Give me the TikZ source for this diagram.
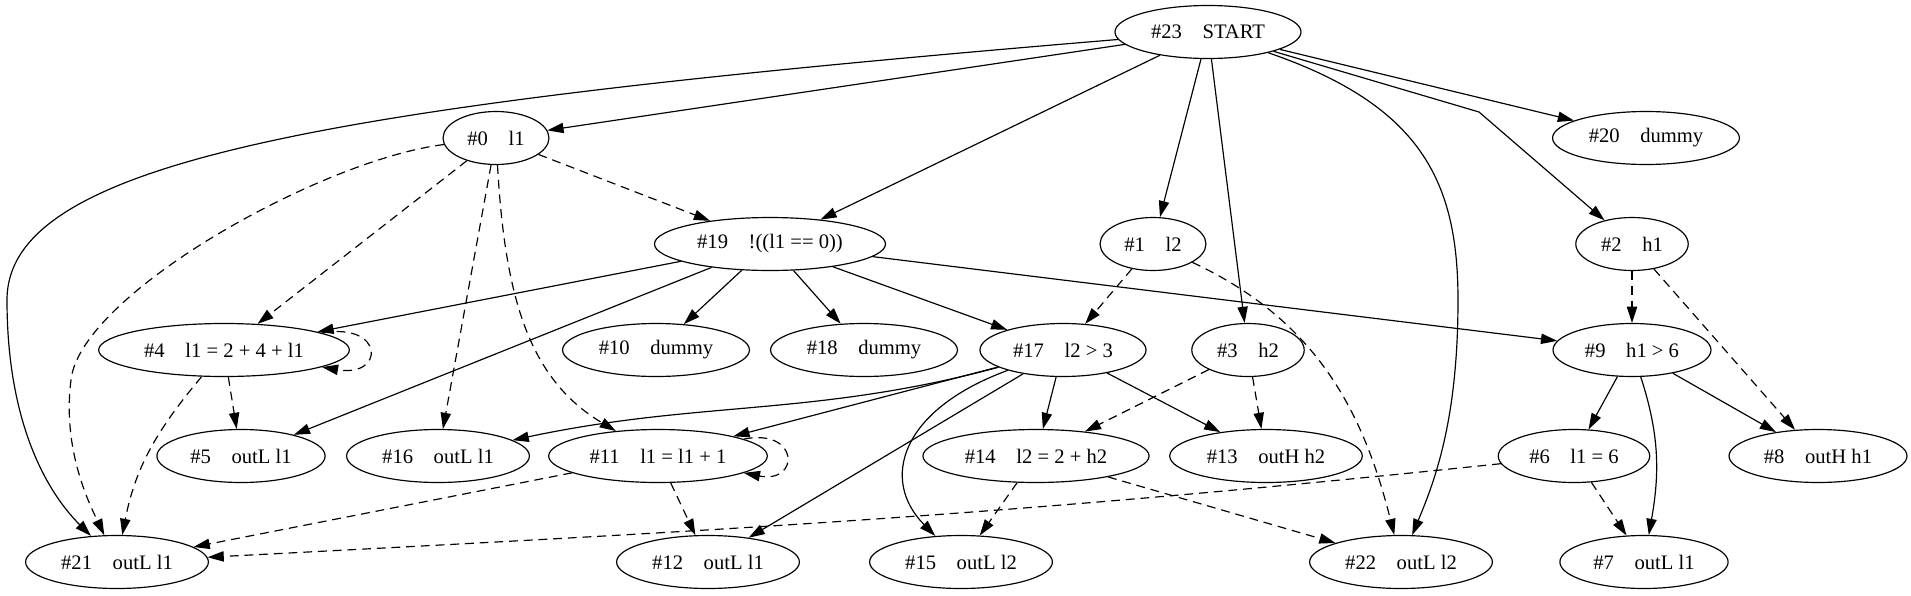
\documentclass[tikz,border=0pt]{standalone}
\usepackage{fontspec}
\setmainfont{Liberation Serif}
\usepackage{tikz}
\usetikzlibrary{arrows.meta,shapes.geometric}

\begin{document}
\begin{tikzpicture}[x=0.02388cm, y=-0.02388cm, >={Triangle[length=11pt,width=7pt]},
        font=\fontsize{14}{16}\selectfont,
        st/.style={draw, ellipse, line width=0.8pt, inner xsep=6pt, inner ysep=1pt, minimum height=36pt},
        ed/.style={->, line width=0.8pt},
        dd/.style={->, line width=0.8pt, dash pattern=on 6pt off 4pt}]
        \useasboundingbox (0,0) rectangle (1911,595);
        \node[st] (n23) at (1208,32) {\#23\quad START};
        \node[st] (n0) at (496,138) {\#0\quad l1};
        \node[st] (n20) at (1646,138) {\#20\quad dummy};
        \node[st] (n19) at (770,244) {\#19\quad !((l1 == 0))};
        \node[st] (n1) at (1153,244) {\#1\quad l2};
        \node[st] (n2) at (1632,244) {\#2\quad h1};
        \node[st] (n4) at (224,350) {\#4\quad l1 = 2 + 4 + l1};
        \node[st] (n10) at (656,350) {\#10\quad dummy};
        \node[st] (n18) at (864,350) {\#18\quad dummy};
        \node[st] (n17) at (1063,350) {\#17\quad l2 > 3};
        \node[st] (n3) at (1248,350) {\#3\quad h2};
        \node[st] (n9) at (1632,350) {\#9\quad h1 > 6};
        \node[st] (n5) at (241,456) {\#5\quad outL l1};
        \node[st] (n16) at (438,456) {\#16\quad outL l1};
        \node[st] (n11) at (658,456) {\#11\quad l1 = l1 + 1};
        \node[st] (n14) at (1036,456) {\#14\quad l2 = 2 + h2};
        \node[st] (n13) at (1266,456) {\#13\quad outH h2};
        \node[st] (n6) at (1574,456) {\#6\quad l1 = 6};
        \node[st] (n8) at (1818,456) {\#8\quad outH h1};
        \node[st] (n21) at (117,562) {\#21\quad outL l1};
        \node[st] (n12) at (708,562) {\#12\quad outL l1};
        \node[st] (n15) at (961,562) {\#15\quad outL l2};
        \node[st] (n22) at (1401,562) {\#22\quad outL l2};
        \node[st] (n7) at (1644,562) {\#7\quad outL l1};
        % START
        \draw[ed] (n23) .. controls (330,105) and (7,160) .. (7,300) .. controls (7,420) and (45,490) .. (n21);
        \draw[ed] (n23) -- (n0);
        \draw[ed] (n23) -- (n19);
        \draw[ed] (n23) -- (n1);
        \draw[ed] (n23) -- (n3);
        \draw[ed] (n23) .. controls (1420,105) and (1458,180) .. (1458,300) .. controls (1458,420) and (1435,480) .. (n22);
        \draw[ed] (n23) -- (n20);
        \draw[ed] (n23) -- (1479,112) -- (n2);
        % #0
        \draw[dd] (n0) .. controls (320,160) and (80,295) .. (71,380) .. controls (62,450) and (90,505) .. (n21);
        \draw[dd] (n0) -- (n4);
        \draw[dd] (n0) -- (n16);
        \draw[dd] (n0) .. controls (505,300) and (530,380) .. (n11);
        \draw[dd] (n0) -- (n19);
        % #19
        \draw[ed] (n19) -- (n4);
        \draw[ed] (n19) -- (n5);
        \draw[ed] (n19) -- (n10);
        \draw[ed] (n19) -- (n18);
        \draw[ed] (n19) -- (n17);
        \draw[ed] (n19) -- (n9);
        % #1, #2
        \draw[dd] (n1) -- (n17);
        \draw[dd] (n1) to[out=-25, in=104] (n22);
        \draw[dd] (n2) -- (n9);
        \draw[dd] (n2) -- (n8);
        % #4
        \draw[dd] (n4) .. controls (385,322) and (385,378) .. (n4);
        \draw[dd] (n4) -- (n5);
        \draw[dd] (n4) to[out=-130, in=79] (n21);
        % #17
        \draw[ed] (n17) to[out=195, in=12] (n16);
        \draw[ed] (n17) -- (n11);
        \draw[ed] (n17) -- (n12);
        \draw[ed] (n17) .. controls (900,410) and (880,480) .. (n15);
        \draw[ed] (n17) -- (n14);
        \draw[ed] (n17) -- (n13);
        % #3
        \draw[dd] (n3) -- (n14);
        \draw[dd] (n3) -- (n13);
        % #9
        \draw[ed] (n9) -- (n6);
        \draw[ed] (n9) to[out=-72, in=80] (n7);
        \draw[ed] (n9) -- (n8);
        % #11
        \draw[dd] (n11) .. controls (800,428) and (800,484) .. (n11);
        \draw[dd] (n11) -- (n21);
        \draw[dd] (n11) -- (n12);
        % #14, #6
        \draw[dd] (n14) -- (n15);
        \draw[dd] (n14) -- (n22);
        \draw[dd] (n6) to[out=186, in=3] (n21);
        \draw[dd] (n6) -- (n7);
      \end{tikzpicture}
\end{document}
